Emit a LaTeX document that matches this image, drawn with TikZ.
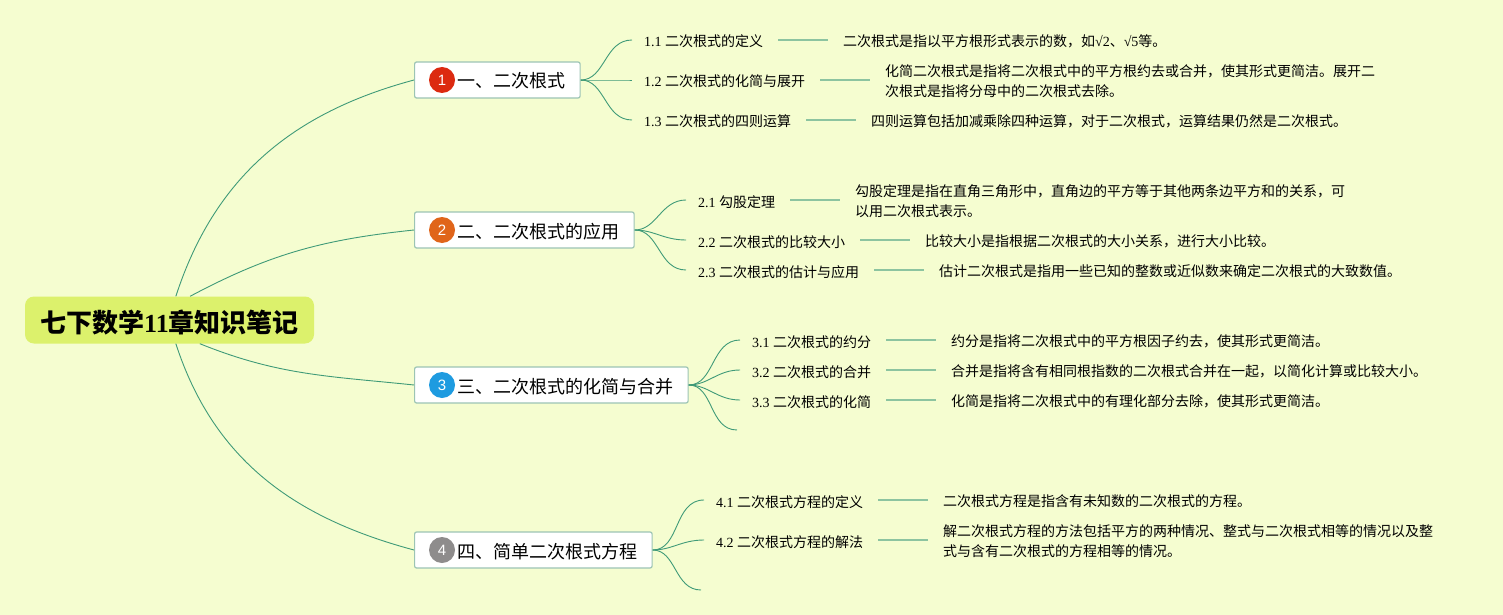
\documentclass[tikz,border=0pt]{standalone}
\usepackage{fontspec}
\usepackage{xcolor}
\setmainfont{Liberation Serif}
\setsansfont{Liberation Sans}
\newfontfamily\cjk{Noto Sans CJK SC}
\usetikzlibrary{positioning}
\definecolor{bgcol}{HTML}{F5FDD0}
\definecolor{rootcol}{HTML}{DCF16C}
\definecolor{edgecol}{HTML}{3F9A78}
\definecolor{linkcol}{HTML}{8CC4A0}
\definecolor{boxcol}{HTML}{9CC4B4}
\definecolor{badgeone}{HTML}{DC2A10}
\definecolor{badgetwo}{HTML}{E0651A}
\definecolor{badgethree}{HTML}{1E9BE0}
\definecolor{badgefour}{HTML}{8E8C8C}
\tikzset{
  rootnode/.style={fill=rootcol, rounded corners=9pt, minimum width=289pt, minimum height=47pt, inner sep=0pt, text height=24pt, text depth=0pt, font=\fontsize{26}{30}\bfseries\cjk},
  topicnode/.style={draw=boxcol, fill=white, line width=1.2pt, rounded corners=2pt, anchor=west, minimum height=36pt, inner xsep=14.5pt, inner ysep=0pt, text height=16pt, text depth=0pt, font=\fontsize{18}{22}\selectfont},
  badge/.style={circle, minimum size=26pt, inner sep=0pt, text=white, font=\fontsize{15}{18}\sffamily},
  subnode/.style={anchor=west, inner xsep=15pt, inner ysep=0pt, text height=14pt, text depth=0pt, font=\fontsize{14}{20}\selectfont},
  detailnode/.style={inner xsep=14.5pt, inner ysep=0pt, align=left, font=\fontsize{14}{20}\selectfont, node distance=50pt, yshift=-1pt},
  rootedge/.style={edgecol, line width=0.9pt},
  subedge/.style={edgecol, line width=0.9pt, shorten >=-3pt},
  linkedge/.style={linkcol, line width=1.6pt}
}
\begin{document}
\begin{tikzpicture}[x=1pt, y=-1pt]
    \useasboundingbox (0,0) rectangle (1503,615);
    \fill[bgcol] (0,0) rectangle (1503,615);
    \node[rootnode] (root) at (169.5,320) {七下数学{\rmfamily 11}章知识笔记};

    % First topic
    \node[topicnode] (t1) at (414,80) {\hspace*{28.5pt}\cjk 一、二次根式};
    \node[badge, fill=badgeone] (b1) at (442,80) {1};
    \node[subnode] (s11) at (629,40) {1.1 {\cjk 二次根式的定义}};
    \node[subnode] (s12) at (629,80) {1.2 {\cjk 二次根式的化简与展开}};
    \node[subnode] (s13) at (629,120) {1.3 {\cjk 二次根式的四则运算}};
    \node[detailnode, right=of s11] (d11) {\cjk 二次根式是指以平方根形式表示的数，如{\rmfamily √2}、{\rmfamily √5}等。};
    \node[detailnode, right=of s12] (d12) {\cjk 化简二次根式是指将二次根式中的平方根约去或合并，使其形式更简洁。展开二\\\cjk 次根式是指将分母中的二次根式去除。};
    \node[detailnode, right=of s13] (d13) {\cjk 四则运算包括加减乘除四种运算，对于二次根式，运算结果仍然是二次根式。};
    \draw[rootedge] (root.75) to[out=72, in=195] (t1.west);
    \draw[subedge] (t1.east) to[out=0, in=180] (s11.west);
    \draw[subedge] (t1.east) to[out=0, in=180] (s12.west);
    \draw[subedge] (t1.east) to[out=0, in=180] (s13.west);
    \draw[linkedge] (s11) -- (s11 -| d11.west);
    \draw[linkedge] (s12) -- (s12 -| d12.west);
    \draw[linkedge] (s13) -- (s13 -| d13.west);

    % Second topic
    \node[topicnode] (t2) at (414,230) {\hspace*{28.5pt}\cjk 二、二次根式的应用};
    \node[badge, fill=badgetwo] (b2) at (442,230) {2};
    \node[subnode] (s21) at (683,200) {2.1 {\cjk 勾股定理}};
    \node[subnode] (s22) at (683,240) {2.2 {\cjk 二次根式的比较大小}};
    \node[subnode] (s23) at (683,270) {2.3 {\cjk 二次根式的估计与应用}};
    \node[detailnode, right=of s21] (d21) {\cjk 勾股定理是指在直角三角形中，直角边的平方等于其他两条边平方和的关系，可\\\cjk 以用二次根式表示。};
    \node[detailnode, right=of s22] (d22) {\cjk 比较大小是指根据二次根式的大小关系，进行大小比较。};
    \node[detailnode, right=of s23] (d23) {\cjk 估计二次根式是指用一些已知的整数或近似数来确定二次根式的大致数值。};
    \draw[rootedge] (root.49.5) to[out=28, in=186] (t2.west);
    \draw[subedge] (t2.east) to[out=0, in=180] (s21.west);
    \draw[subedge] (t2.east) to[out=0, in=180] (s22.west);
    \draw[subedge] (t2.east) to[out=0, in=180] (s23.west);
    \draw[linkedge] (s21) -- (s21 -| d21.west);
    \draw[linkedge] (s22) -- (s22 -| d22.west);
    \draw[linkedge] (s23) -- (s23 -| d23.west);

    % Third topic
    \node[topicnode] (t3) at (414,385) {\hspace*{28.5pt}\cjk 三、二次根式的化简与合并};
    \node[badge, fill=badgethree] (b3) at (442,385) {3};
    \node[subnode] (s31) at (737,340) {3.1 {\cjk 二次根式的约分}};
    \node[subnode] (s32) at (737,370) {3.2 {\cjk 二次根式的合并}};
    \node[subnode] (s33) at (737,400) {3.3 {\cjk 二次根式的化简}};
    \coordinate (e3) at (734,430);
    \node[detailnode, right=of s31] (d31) {\cjk 约分是指将二次根式中的平方根因子约去，使其形式更简洁。};
    \node[detailnode, right=of s32] (d32) {\cjk 合并是指将含有相同根指数的二次根式合并在一起，以简化计算或比较大小。};
    \node[detailnode, right=of s33] (d33) {\cjk 化简是指将二次根式中的有理化部分去除，使其形式更简洁。};
    \draw[rootedge] (root.-38) to[out=-22, in=174] (t3.west);
    \draw[subedge] (t3.east) to[out=0, in=180] (s31.west);
    \draw[subedge] (t3.east) to[out=0, in=180] (s32.west);
    \draw[subedge] (t3.east) to[out=0, in=180] (s33.west);
    \draw[subedge] (t3.east) to[out=0, in=180] (e3);
    \draw[linkedge] (s31) -- (s31 -| d31.west);
    \draw[linkedge] (s32) -- (s32 -| d32.west);
    \draw[linkedge] (s33) -- (s33 -| d33.west);

    % Fourth topic
    \node[topicnode] (t4) at (414,550) {\hspace*{28.5pt}\cjk 四、简单二次根式方程};
    \node[badge, fill=badgefour] (b4) at (442,550) {4};
    \node[subnode] (s41) at (701,500) {4.1 {\cjk 二次根式方程的定义}};
    \node[subnode] (s42) at (701,540) {4.2 {\cjk 二次根式方程的解法}};
    \coordinate (e4) at (698,590);
    \node[detailnode, right=of s41] (d41) {\cjk 二次根式方程是指含有未知数的二次根式的方程。};
    \node[detailnode, right=of s42] (d42) {\cjk 解二次根式方程的方法包括平方的两种情况、整式与二次根式相等的情况以及整\\\cjk 式与含有二次根式的方程相等的情况。};
    \draw[rootedge] (root.-75) to[out=-72, in=165] (t4.west);
    \draw[subedge] (t4.east) to[out=0, in=180] (s41.west);
    \draw[subedge] (t4.east) to[out=0, in=180] (s42.west);
    \draw[subedge] (t4.east) to[out=0, in=180] (e4);
    \draw[linkedge] (s41) -- (s41 -| d41.west);
    \draw[linkedge] (s42) -- (s42 -| d42.west);
\end{tikzpicture}
\end{document}
